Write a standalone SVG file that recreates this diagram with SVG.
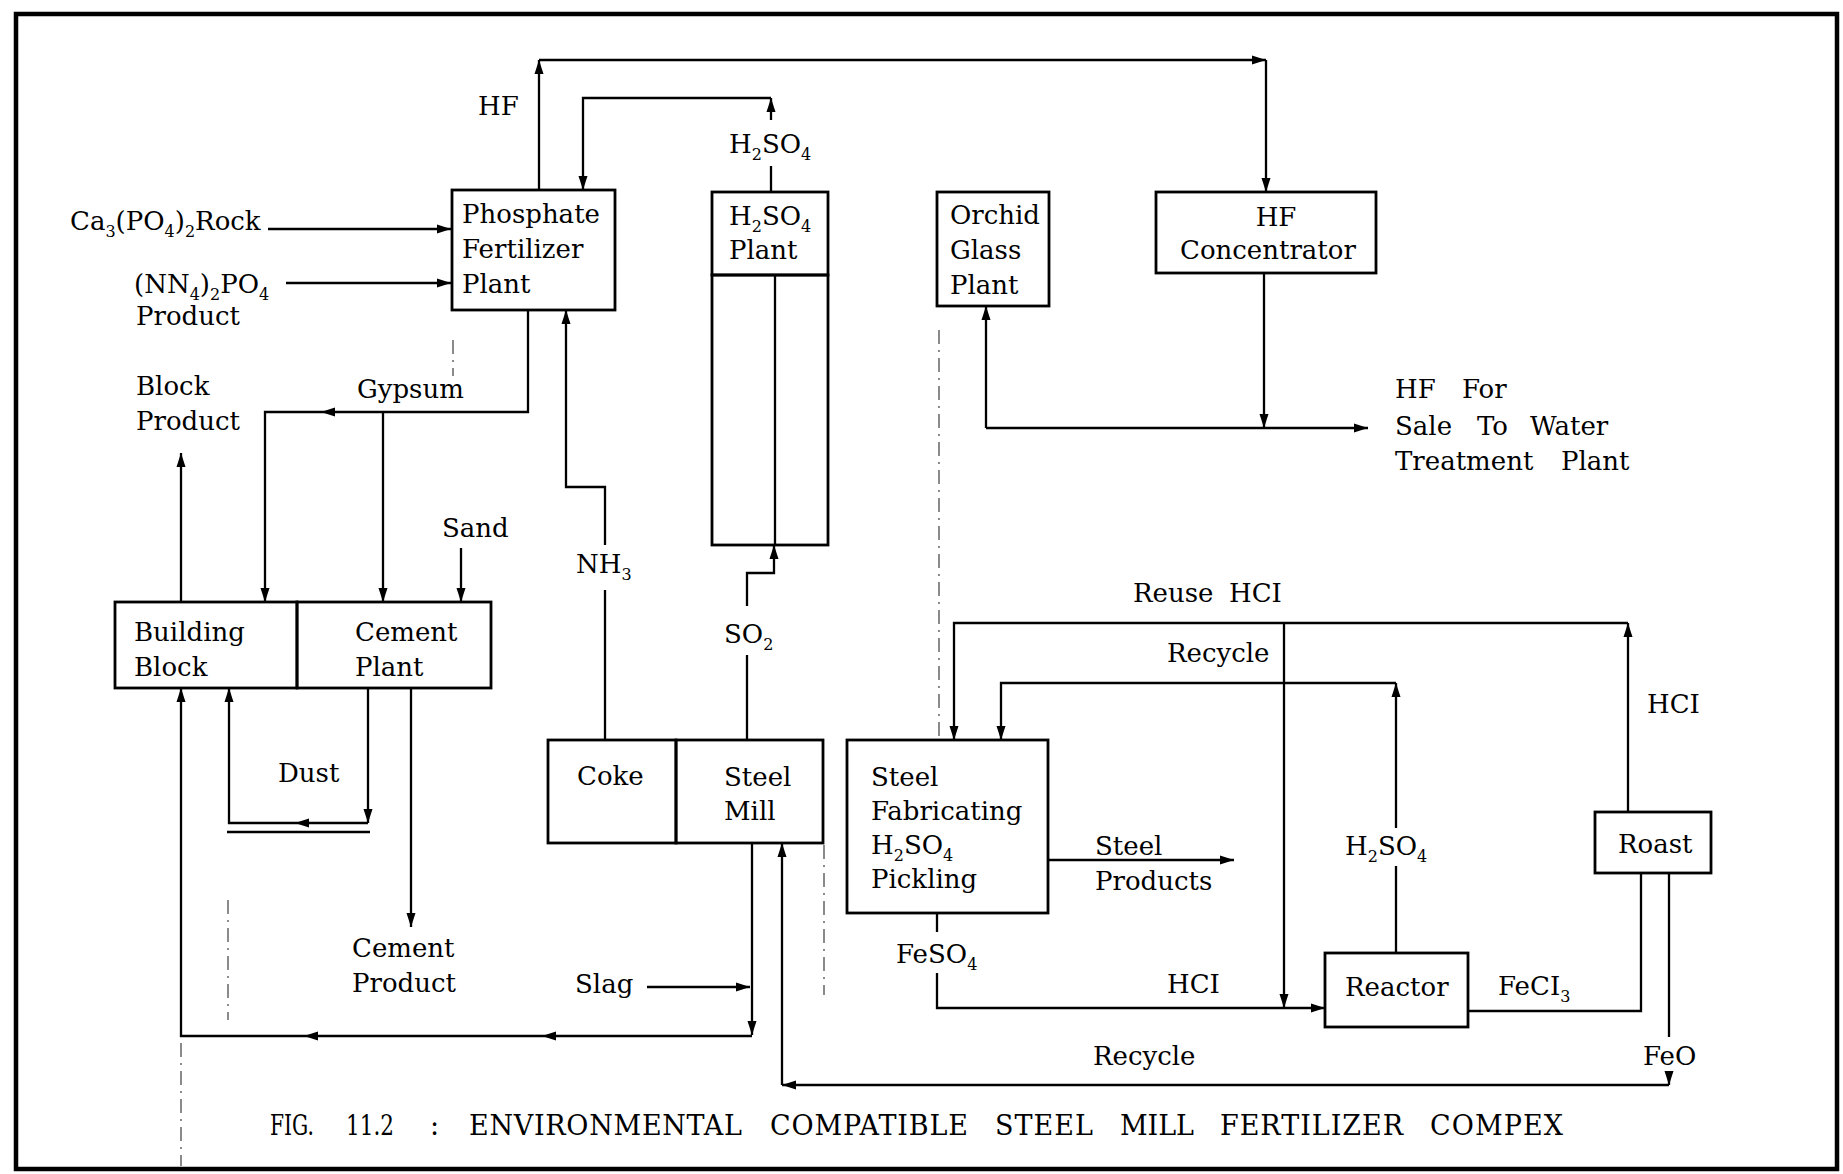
<svg xmlns="http://www.w3.org/2000/svg" width="1843" height="1174" viewBox="0 0 1843 1174">
<style>
.box{fill:none;stroke:#000;stroke-width:2.8}
.ln{fill:none;stroke:#000;stroke-width:2.3}
.ar{marker-end:url(#ah)}
.art{fill:none;stroke:#000;stroke-width:1.3;stroke-dasharray:14 6 2 6;opacity:0.7}
text{font-family:"DejaVu Serif","Liberation Serif",serif;font-size:26px;fill:#000}
.sub{font-size:16px}
.cap{font-size:27px}
</style>
<defs>
<marker id="ah" markerWidth="16" markerHeight="12" refX="14" refY="6" orient="auto" markerUnits="userSpaceOnUse"><path d="M0,1.5 L14,6 L0,10.5 Z" fill="#000"/></marker>
</defs>
<rect x="0" y="0" width="1843" height="1174" fill="#fff"/>
<rect x="16" y="14" width="1821" height="1155" fill="none" stroke="#000" stroke-width="4.5"/>

<g id="connectors">
  <!-- HF to concentrator -->
  <path class="ln ar" d="M539,190 L539,60"/>
  <path class="ln ar" d="M539,60 L1266,60"/>
  <path class="ln ar" d="M1266,60 L1266,192"/>
  <!-- H2SO4 to phosphate -->
  <path class="ln" d="M771,192 L771,166"/>
  <path class="ln ar" d="M771,120 L771,98"/>
  <path class="ln ar" d="M771,98 L583,98 L583,190"/>
  <!-- feeds -->
  <path class="ln ar" d="M268,229 L451,229"/>
  <path class="ln ar" d="M286,283 L451,283"/>
  <!-- gypsum -->
  <path class="ln ar" d="M528,310 L528,412 L321,412"/>
  <path class="ln ar" d="M321,412 L265,412 L265,602"/>
  <path class="ln ar" d="M383,412 L383,602"/>
  <path class="ln ar" d="M461,548 L461,602"/>
  <path class="ln ar" d="M181,602 L181,453"/>
  <!-- NH3 -->
  <path class="ln" d="M605,740 L605,590"/>
  <path class="ln ar" d="M605,545 L605,487 L566,487 L566,310"/>
  <!-- SO2 -->
  <path class="ln" d="M747,740 L747,655"/>
  <path class="ln ar" d="M747,606 L747,573 L774,573 L774,545"/>
  <!-- concentrator / orchid -->
  <path class="ln ar" d="M1264,273 L1264,428"/>
  <path class="ln ar" d="M986,428 L1368,428"/>
  <path class="ln ar" d="M986,428 L986,306"/>
  <!-- dust loop -->
  <path class="ln ar" d="M368,688 L368,823"/>
  <path class="ln ar" d="M368,823 L295,823"/>
  <path class="ln ar" d="M295,823 L229,823 L229,688"/>
  <path class="ln" d="M227,832 L370,832"/>
  <!-- cement product -->
  <path class="ln ar" d="M411,688 L411,927"/>
  <!-- slag loop -->
  <path class="ln ar" d="M752,843 L752,1035"/>
  <path class="ln ar" d="M752,1036 L542,1036"/>
  <path class="ln ar" d="M542,1036 L304,1036"/>
  <path class="ln ar" d="M304,1036 L181,1036 L181,688"/>
  <path class="ln ar" d="M647,987 L750,987"/>
  <!-- FeO recycle -->
  <path class="ln" d="M1669,873 L1669,1037"/>
  <path class="ln ar" d="M1669,1071 L1669,1085"/>
  <path class="ln ar" d="M1669,1085 L782,1085"/>
  <path class="ln ar" d="M782,1085 L782,843"/>
  <!-- steel products -->
  <path class="ln ar" d="M1048,860 L1234,860"/>
  <!-- FeSO4 / HCl to reactor -->
  <path class="ln" d="M937,913 L937,932"/>
  <path class="ln ar" d="M937,973 L937,1008 L1325,1008"/>
  <path class="ln ar" d="M1284,623 L1284,1008"/>
  <!-- reuse HCl -->
  <path class="ln ar" d="M1628,812 L1628,623"/>
  <path class="ln ar" d="M1628,623 L954,623 L954,740"/>
  <!-- recycle H2SO4 -->
  <path class="ln" d="M1396,953 L1396,866"/>
  <path class="ln ar" d="M1396,828 L1396,683"/>
  <path class="ln ar" d="M1396,683 L1001,683 L1001,740"/>
  <!-- FeCl3 -->
  <path class="ln" d="M1468,1011 L1641,1011 L1641,873"/>
  <!-- faint scan marks -->
  <path class="art" d="M939,330 L939,740"/>
  <path class="art" d="M824,845 L824,995"/>
  <path class="art" d="M181,1043 L181,1166"/>
  <path class="art" d="M228,900 L228,1020"/>
  <path class="art" d="M453,340 L453,376"/>
</g>

<g id="labels">
  <text x="478" y="115">HF</text>
  <text x="729" y="153">H<tspan class="sub" dy="7">2</tspan><tspan dy="-7">SO</tspan><tspan class="sub" dy="7">4</tspan></text>
  <text x="70" y="230">Ca<tspan class="sub" dy="7">3</tspan><tspan dy="-7">(PO</tspan><tspan class="sub" dy="7">4</tspan><tspan dy="-7">)</tspan><tspan class="sub" dy="7">2</tspan><tspan dy="-7">Rock</tspan></text>
  <text x="134" y="293">(NN<tspan class="sub" dy="7">4</tspan><tspan dy="-7">)</tspan><tspan class="sub" dy="7">2</tspan><tspan dy="-7">PO</tspan><tspan class="sub" dy="7">4</tspan></text>
  <text x="136" y="325">Product</text>
  <text x="136" y="395">Block</text>
  <text x="136" y="430">Product</text>
  <text x="357" y="398">Gypsum</text>
  <text x="442" y="537">Sand</text>
  <text x="576" y="573">NH<tspan class="sub" dy="7">3</tspan></text>
  <text x="724" y="643">SO<tspan class="sub" dy="7">2</tspan></text>
  <text x="278" y="782">Dust</text>
  <text x="352" y="957">Cement</text>
  <text x="352" y="992">Product</text>
  <text x="575" y="993">Slag</text>
  <text x="1395" y="398">HF<tspan x="1462">For</tspan></text>
  <text x="1395" y="435">Sale<tspan x="1477">To</tspan><tspan x="1530">Water</tspan></text>
  <text x="1395" y="470">Treatment<tspan x="1561">Plant</tspan></text>
  <text x="1133" y="602">Reuse<tspan x="1229">HCI</tspan></text>
  <text x="1167" y="662">Recycle</text>
  <text x="1647" y="713">HCI</text>
  <text x="1095" y="855">Steel</text>
  <text x="1095" y="890">Products</text>
  <text x="1345" y="855">H<tspan class="sub" dy="7">2</tspan><tspan dy="-7">SO</tspan><tspan class="sub" dy="7">4</tspan></text>
  <text x="896" y="963">FeSO<tspan class="sub" dy="7">4</tspan></text>
  <text x="1167" y="993">HCI</text>
  <text x="1498" y="995">FeCI<tspan class="sub" dy="7">3</tspan></text>
  <text x="1093" y="1065">Recycle</text>
  <text x="1643" y="1065">FeO</text>
</g>

<g id="phosphate-plant">
  <rect class="box" x="452" y="190" width="163" height="120"/>
  <text x="462" y="223">Phosphate</text>
  <text x="462" y="258">Fertilizer</text>
  <text x="462" y="293">Plant</text>
</g>
<g id="h2so4-plant">
  <rect class="box" x="712" y="192" width="116" height="83"/>
  <rect class="box" x="712" y="275" width="116" height="270"/>
  <line class="ln" x1="775" y1="275" x2="775" y2="545"/>
  <text x="729" y="225">H<tspan class="sub" dy="7">2</tspan><tspan dy="-7">SO</tspan><tspan class="sub" dy="7">4</tspan></text>
  <text x="729" y="259">Plant</text>
</g>
<g id="orchid-glass-plant">
  <rect class="box" x="937" y="192" width="112" height="114"/>
  <text x="950" y="224">Orchid</text>
  <text x="950" y="259">Glass</text>
  <text x="950" y="294">Plant</text>
</g>
<g id="hf-concentrator">
  <rect class="box" x="1156" y="192" width="220" height="81"/>
  <text x="1276" y="226" text-anchor="middle">HF</text>
  <text x="1180" y="259">Concentrator</text>
</g>
<g id="building-block">
  <rect class="box" x="115" y="602" width="182" height="86"/>
  <text x="134" y="641">Building</text>
  <text x="134" y="676">Block</text>
</g>
<g id="cement-plant">
  <rect class="box" x="297" y="602" width="194" height="86"/>
  <text x="355" y="641">Cement</text>
  <text x="355" y="676">Plant</text>
</g>
<g id="coke">
  <rect class="box" x="548" y="740" width="128" height="103"/>
  <text x="577" y="785">Coke</text>
</g>
<g id="steel-mill">
  <rect class="box" x="676" y="740" width="147" height="103"/>
  <text x="724" y="786">Steel</text>
  <text x="724" y="820">Mill</text>
</g>
<g id="steel-fabricating">
  <rect class="box" x="847" y="740" width="201" height="173"/>
  <text x="871" y="786">Steel</text>
  <text x="871" y="820">Fabricating</text>
  <text x="871" y="854">H<tspan class="sub" dy="7">2</tspan><tspan dy="-7">SO</tspan><tspan class="sub" dy="7">4</tspan></text>
  <text x="871" y="888">Pickling</text>
</g>
<g id="reactor">
  <rect class="box" x="1325" y="953" width="143" height="74"/>
  <text x="1345" y="996">Reactor</text>
</g>
<g id="roast">
  <rect class="box" x="1595" y="812" width="116" height="61"/>
  <text x="1618" y="853">Roast</text>
</g>

<g id="caption">
  <text class="cap" x="270" y="1135" textLength="44" lengthAdjust="spacingAndGlyphs">FIG.</text>
  <text class="cap" x="346" y="1135" textLength="48" lengthAdjust="spacingAndGlyphs">11.2</text>
  <text class="cap" x="430" y="1135">:</text>
  <text class="cap" x="469" y="1135" textLength="273">ENVIRONMENTAL</text>
  <text class="cap" x="770" y="1135" textLength="198">COMPATIBLE</text>
  <text class="cap" x="995" y="1135" textLength="98">STEEL</text>
  <text class="cap" x="1120" y="1135" textLength="74">MILL</text>
  <text class="cap" x="1220" y="1135" textLength="183">FERTILIZER</text>
  <text class="cap" x="1430" y="1135" textLength="133">COMPEX</text>
</g>
</svg>
